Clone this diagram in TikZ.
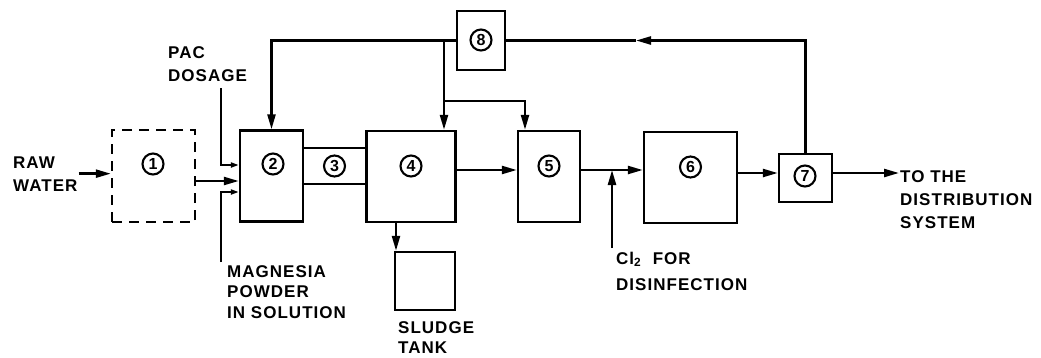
\documentclass[tikz,border=0pt]{standalone}
\usepackage{fontspec}
\newfontfamily\lblfont[LetterSpace=6]{Liberation Sans Bold}
\newfontfamily\numfont{Liberation Sans Bold}
\usetikzlibrary{arrows.meta}

\begin{document}
\begin{tikzpicture}[x=1pt, y=-1pt, line width=2.4pt,
    >={Triangle[length=15pt,width=8pt]},
    box/.style={draw, rectangle, inner sep=0pt},
    num/.style={circle, draw, line width=2.1pt, minimum size=21pt, inner sep=0pt,
        font=\numfont\fontsize{16}{16}\selectfont},
    lbl/.style={font=\lblfont\fontsize{17}{#1}\selectfont, align=left, inner sep=0pt, anchor=base west},
    lbl/.default=23,
    small/.style={-{Triangle[length=8pt,width=5pt]}}]

    \useasboundingbox (0,0) rectangle (1041,357);

    % --- unidades ---
    \node[box, dashed, dash pattern=on 10pt off 7pt, minimum width=83pt, minimum height=92pt] (b1) at (153.5,176) {};
    \node[box, minimum width=63pt, minimum height=91pt] (b2) at (271.5,176) {};
    \node[rectangle, inner sep=0pt, minimum width=63pt, minimum height=34pt] (b3) at (334.5,166) {};
    \node[box, minimum width=89pt, minimum height=91pt] (b4) at (411,176.5) {};
    \node[box, minimum width=62pt, minimum height=91pt] (b5) at (549,176.5) {};
    \node[box, minimum width=93pt, minimum height=91pt] (b6) at (690.5,177.5) {};
    \node[box, minimum width=53pt, minimum height=48pt] (b7) at (805.5,178) {};
    \node[box, minimum width=48pt, minimum height=59pt] (b8) at (481,40.5) {};
    \node[box, minimum width=60pt, minimum height=58pt] (sludge) at (425,281) {};
    \draw (b3.north west) -- (b3.north east);
    \draw (b3.south west) -- (b3.south east);

    % --- numeros ---
    \node[num] (n1) at (153,164) {1};
    \node[num] (n2) at (273,164) {2};
    \node[num] (n3) at (334.5,166) {3};
    \node[num] (n4) at (411,166) {4};
    \node[num] (n5) at (549,166) {5};
    \node[num] (n6) at (690.5,167) {6};
    \node[num] (n7) at (805,176) {7};
    \node[num] (n8) at (481,40) {8};

    % --- textos ---
    \node[lbl] (raw) at (12,191) {RAW\\WATER};
    \node[lbl] (pac) at (167,81) {PAC\\DOSAGE};
    \node[lbl=20.5] (mg) at (226,318) {MAGNESIA\\POWDER\\IN SOLUTION};
    \node[lbl=20] (sl) at (397,353) {SLUDGE\\TANK};
    \node[lbl=26] (cl) at (615,290) {Cl\textsubscript{2}\ \ FOR\\DISINFECTION};
    \node[lbl] (out) at (899,228) {TO THE\\DISTRIBUTION\\SYSTEM};

    % --- flujo principal ---
    \draw[->] (raw.east) -- (raw.east -| b1.west);
    \draw[->] ([yshift=-5pt]b1.east) -- ([yshift=-5pt]b1.east -| b2.west);
    \draw[->] ([yshift=6.5pt]b4.east) -- ([yshift=6.5pt]b4.east -| b5.west);
    \coordinate (j56) at ([yshift=6.5pt]b5.east);
    \draw[->] (j56) -- (j56 -| b6.west);
    \draw[->] ([yshift=4.5pt]b6.east) -- ([yshift=4.5pt]b6.east -| b7.west);
    \draw[->] ([yshift=5pt]b7.east) -- ([yshift=5pt]b7.east -| out.west);
    \draw[->] ([xshift=-29pt]sludge.north |- b4.south) -- ([xshift=-29pt]sludge.north);

    % --- dosificacion ---
    \coordinate (pacin) at (221,88);
    \coordinate (mgin) at (221,262);
    \coordinate (clin) at (612,248);
    \draw[small] (pacin) |- ([yshift=11pt]b2.west);
    \draw[small] (mgin) |- ([yshift=-16pt]b2.west);
    \draw[->] (clin) -- (clin |- j56);

    % --- recirculacion ---
    \coordinate (split) at (444,101);
    \coordinate (fbtip) at (636,40.5);
    \draw[->] (b8.west) -| (b2.north);
    \draw[->] ([xshift=33pt]b4.north |- b8.west) -- ([xshift=33pt]b4.north);
    \draw[->] (split) -| ([xshift=-24pt]b5.north);
    \draw[->] (b7.north) |- (fbtip);
    \draw (fbtip) -- (b8.east);

\end{tikzpicture}
\end{document}
